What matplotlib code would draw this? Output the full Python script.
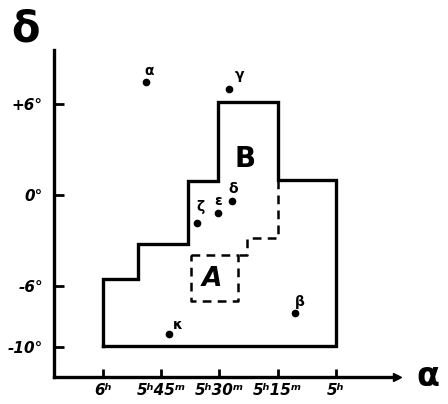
# Orion field: boundaries of regions A and B with the bright stars
import numpy as np
from matplotlib import pyplot as plt

# right ascension in minutes of time (360 = 6h), declination in degrees
b_ra = [360, 360, 351, 351, 338, 338, 330.4, 330.4, 315, 315, 300, 300, 360]
b_dec = [-9.9, -5.5, -5.5, -3.2, -3.2, 0.9, 0.9, 6.1, 6.1, 1.0, 1.0, -9.9, -9.9]

# dashed lower edge of B
bd_ra = [315, 315, 322.9, 322.9, 325.2]
bd_dec = [1.0, -2.8, -2.8, -3.95, -3.95]

# dashed box A
a_ra = [337.3, 325.2, 325.2, 337.3, 337.3]
a_dec = [-3.95, -3.95, -6.97, -6.97, -3.95]

star_names = ['α', 'γ', 'ζ', 'ε', 'δ', 'β', 'κ']
star_ra = [348.9, 327.6, 335.8, 330.4, 326.8, 310.6, 343.0]
star_dec = [7.43, 6.97, -1.84, -1.18, -0.39, -7.76, -9.14]
label_shift = [(3, 11), (11, 14), (4, 16), (0, 12), (1, 12), (5, 11), (9, 9)]

ra_ticks = [360, 345, 330, 315, 300]
ra_labels = ['6ʰ', '5ʰ45ᵐ', '5ʰ30ᵐ', '5ʰ15ᵐ', '5ʰ']
dec_ticks = [6, 0, -6, -10]
dec_labels = ['+6°', '0°', '-6°', '-10°']

fig = plt.figure(figsize=(4.48, 4.04), dpi=100)
ax = fig.add_axes([54 / 448, 1 - 377 / 404, 343 / 448, 327 / 404])
ax.set_xlim(372.6, 284.3)
ax.set_ylim(-11.97, 9.54)

for s in ['top', 'right']:
    ax.spines[s].set_visible(False)
for s in ['left', 'bottom']:
    ax.spines[s].set_linewidth(2.4)

ax.plot(b_ra, b_dec, color='black', lw=2.4, solid_joinstyle='miter')
ax.plot(bd_ra, bd_dec, color='black', lw=1.8, dashes=(3.5, 2.5))
ax.plot(a_ra, a_dec, color='black', lw=1.8, dashes=(3.5, 2.5))

ax.plot(star_ra, star_dec, 'o', color='black', ms=4.5)
for name, x, y, (dx, dy) in zip(star_names, star_ra, star_dec, label_shift):
    ax.annotate(name, (x, y), xytext=(dx, dy), textcoords='offset pixels',
                ha='center', va='center', fontsize=10, fontweight='bold')

ax.text(331.9, -5.5, 'A', fontsize=19, fontweight='bold', style='italic',
        ha='center', va='center')
ax.text(323.4, 2.4, 'B', fontsize=20, fontweight='bold',
        ha='center', va='center')

ax.set_xticks(ra_ticks)
ax.set_xticklabels(ra_labels, fontsize=11, fontweight='bold', style='italic')
ax.set_yticks(dec_ticks)
ax.set_yticklabels(dec_labels, fontsize=11, fontweight='bold', style='italic')
ax.tick_params(axis='x', direction='in', length=6, width=2, pad=4)
ax.tick_params(axis='y', direction='in', length=7, width=2, pad=8)

# arrow head on the RA axis
ax.plot([284.3], [-11.97], marker='>', color='black', ms=6, clip_on=False)

fig.text(25 / 448, 1 - 30 / 404, 'δ', fontsize=30, fontweight='bold',
         ha='center', va='center')
fig.text(428 / 448, 1 - 376 / 404, 'α', fontsize=24, fontweight='bold',
         ha='center', va='center')

plt.savefig('out.png', dpi=100)
